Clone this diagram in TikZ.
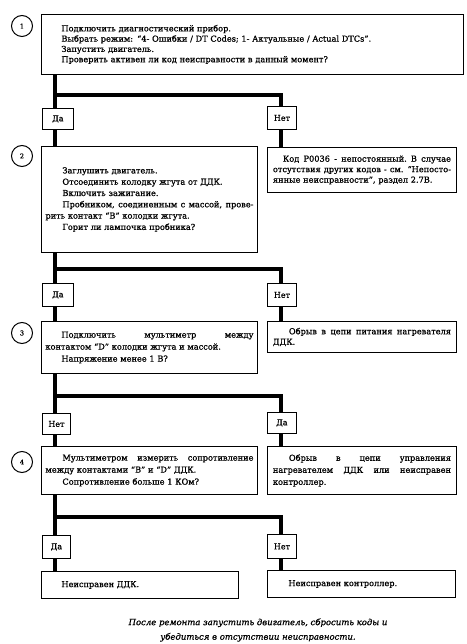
\documentclass[tikz,border=0pt]{standalone}
\usepackage{fontspec}
\setmainfont{DejaVu Serif}[FakeBold=0.9]
\newcommand\jla[1]{\makebox[208pt][s]{\spaceskip=0.3333em plus 3em\relax #1}}
\newcommand\jlb[1]{\makebox[178pt][s]{\spaceskip=0.3333em plus 3em\relax #1}}
\newcommand\fsz[1]{\fontsize{8.2}{#1}\selectfont}
\begin{document}
\begin{tikzpicture}[x=1pt,y=-1pt,
  box/.style={draw,line width=0.9pt,anchor=north west,inner sep=0pt,align=left},
  lab/.style={draw,line width=0.9pt,anchor=north west,inner sep=0pt,font=\fontsize{8}{9}\selectfont},
  conn/.style={line width=4pt},
  num/.style={draw,circle,line width=1pt,minimum size=21pt,inner sep=0pt,font=\fontsize{6.6}{7}\selectfont}]
\useasboundingbox[fill=white] (0,0) rectangle (466,644);

% numbers
\node[num] (c1) at (22,26) {1};
\node[num] (c2) at (22,156) {2};
\node[num] (c3) at (22,333) {3};
\node[num] (c4) at (22,462) {4};

% step 1
\node[box,minimum width=422pt,minimum height=60pt,text width=382pt,font=\fsz{10.3}] (b1) at (41,14)
 {Подключить диагностический прибор.\\
  Выбрать режим: “4- Ошибки / DT Codes; 1- Актуальные / Actual DTCs”.\\
  Запустить двигатель.\\
  Проверить активен ли код неисправности в данный момент?};

\node[lab,minimum width=31pt,minimum height=21pt] (da1) at (42,108) {Да};
\node[lab,minimum width=29pt,minimum height=23pt] (net1) at (267,106) {Нет};

% step 2
\node[box,minimum width=216pt,minimum height=106pt,text width=208pt,font=\fsz{11.3}] (b2) at (41,146)
 {\hspace*{17pt}Заглушить двигатель.\\
  \hspace*{17pt}Отсоединить колодку жгута от ДДК.\\
  \hspace*{17pt}Включить зажигание.\\
  \jla{\hspace*{17pt}Пробником, соединенным с массой, прове-}\\
  рить контакт “B” колодки жгута.\\
  \hspace*{17pt}Горит ли лампочка пробника?};
\node[box,minimum width=189pt,minimum height=45pt,text width=178pt,font=\fsz{10.5}] (r2) at (267,147)
 {\jlb{\hspace*{10pt}Код P0036 - непостоянный. В случае}\\
  \jlb{отсутствия других кодов - см. “Непосто-}\\
  янные неисправности”, раздел 2.7B.};

\node[lab,minimum width=31pt,minimum height=23pt] (da2) at (42,283) {Да};
\node[lab,minimum width=29pt,minimum height=23pt] (net2) at (267,283) {Нет};

% step 3
\node[box,minimum width=216pt,minimum height=52pt,text width=208pt,font=\fsz{12}] (b3) at (41,321)
 {\jla{\hspace*{16pt}Подключить мультиметр между}\\
  контактом “D” колодки жгута и массой.\\
  \hspace*{16pt}Напряжение менее 1 В?};
\node[box,minimum width=189pt,minimum height=31pt,text width=178pt,font=\fsz{10.5}] (r3) at (267,321)
 {\jlb{\hspace*{16pt}Обрыв в цепи питания нагревателя}\\
  ДДК.};

\node[lab,minimum width=28pt,minimum height=21pt] (net3) at (42,413) {Нет};
\node[lab,minimum width=29pt,minimum height=21pt] (da3) at (267,412) {Да};

% step 4
\node[box,minimum width=216pt,minimum height=48pt,text width=208pt,font=\fsz{12}] (b4) at (41,446)
 {\jla{\hspace*{17pt}Мультиметром измерить сопротивление}\\
  между контактами “B” и “D” ДДК.\\
  \hspace*{17pt}Сопротивление больше 1 КОм?};
\node[box,minimum width=189pt,minimum height=48pt,text width=178pt,font=\fsz{12}] (r4) at (267,446)
 {\jlb{\hspace*{16pt}Обрыв в цепи управления}\\
  \jlb{нагревателем ДДК или неисправен}\\
  контроллер.};

\node[lab,minimum width=28pt,minimum height=23pt] (da4) at (42,535) {Да};
\node[lab,minimum width=29pt,minimum height=24pt] (net4) at (267,534) {Нет};

% results
\node[box,minimum width=197pt,minimum height=27pt,text width=157pt,font=\fsz{10}] (f1) at (41,571) {Неисправен ДДК.};
\node[box,minimum width=188pt,minimum height=27pt,text width=146pt,font=\fsz{10}] (f2) at (267,570) {Неисправен контроллер.};

% note
\node[align=center,font=\fontsize{8.5}{14.5}\selectfont\itshape] (note) at (258,630)
 {После ремонта запустить двигатель, сбросить коды и\\убедиться в отсутствии неисправности.};

% junctions
\coordinate (j1) at (55,95);  \coordinate (j1r) at (281,95);
\coordinate (j2) at (55,269); \coordinate (j2r) at (281,269);
\coordinate (j3) at (55,396); \coordinate (j3r) at (281,396);
\coordinate (j4) at (55,516.5); \coordinate (j4r) at (281,516.5);

% connectors
\draw[conn] (b1.south -| j1) -- (da1.north -| j1);
\draw[conn] (j1) -- (j1r) -- (net1.north -| j1r);
\draw[conn] (da1.south -| j1) -- (b2.north -| j1);
\draw[conn] (net1.south -| j1r) -- (r2.north -| j1r);

\draw[conn] (b2.south -| j2) -- (da2.north -| j2);
\draw[conn] (j2) -- (j2r) -- (net2.north -| j2r);
\draw[conn] (da2.south -| j2) -- (b3.north -| j2);
\draw[conn] (net2.south -| j2r) -- (r3.north -| j2r);

\draw[conn] (b3.south -| j3) -- (net3.north -| j3);
\draw[conn] (j3) -- (j3r) -- (da3.north -| j3r);
\draw[conn] (net3.south -| j3) -- (b4.north -| j3);
\draw[conn] (da3.south -| j3r) -- (r4.north -| j3r);

\draw[conn] (b4.south -| j4) -- (da4.north -| j4);
\draw[conn] (j4) -- (j4r) -- (net4.north -| j4r);
\draw[conn] (da4.south -| j4) -- (f1.north -| j4);
\draw[conn] (net4.south -| j4r) -- (f2.north -| j4r);
\end{tikzpicture}
\end{document}
